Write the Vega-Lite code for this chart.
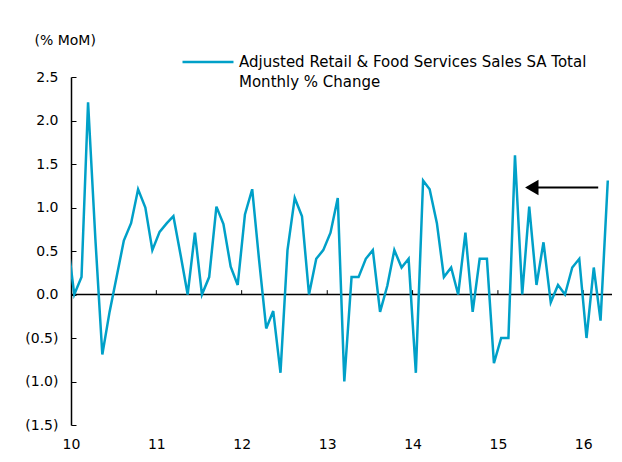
{
  "$schema": "https://vega.github.io/schema/vega-lite/v6.json",
  "width": 541,
  "height": 348,
  "autosize": {"type": "none"},
  "padding": {"left": 71, "top": 77, "right": 10, "bottom": 37},
  "background": "white",
  "config": {
    "view": {"stroke": null},
    "font": "DejaVu Sans",
    "style": {"guide-label": {"lineHeight": 20}}
  },
  "datasets": {
    "sales": [
      {"month": "2009-12-15", "value": 0.66},
      {"month": "2010-01-15", "value": 0.0},
      {"month": "2010-02-15", "value": 0.2},
      {"month": "2010-03-15", "value": 2.21},
      {"month": "2010-04-15", "value": 0.65},
      {"month": "2010-05-15", "value": -0.69},
      {"month": "2010-06-15", "value": -0.2},
      {"month": "2010-07-15", "value": 0.2},
      {"month": "2010-08-15", "value": 0.62},
      {"month": "2010-09-15", "value": 0.82},
      {"month": "2010-10-15", "value": 1.21},
      {"month": "2010-11-15", "value": 1.0},
      {"month": "2010-12-15", "value": 0.51},
      {"month": "2011-01-15", "value": 0.72},
      {"month": "2011-02-15", "value": 0.82},
      {"month": "2011-03-15", "value": 0.9},
      {"month": "2011-04-15", "value": 0.45},
      {"month": "2011-05-15", "value": 0.0},
      {"month": "2011-06-15", "value": 0.71},
      {"month": "2011-07-15", "value": 0.0},
      {"month": "2011-08-15", "value": 0.2},
      {"month": "2011-09-15", "value": 1.01},
      {"month": "2011-10-15", "value": 0.81},
      {"month": "2011-11-15", "value": 0.32},
      {"month": "2011-12-15", "value": 0.11},
      {"month": "2012-01-15", "value": 0.92},
      {"month": "2012-02-15", "value": 1.21},
      {"month": "2012-03-15", "value": 0.41},
      {"month": "2012-04-15", "value": -0.39},
      {"month": "2012-05-15", "value": -0.19},
      {"month": "2012-06-15", "value": -0.9},
      {"month": "2012-07-15", "value": 0.51},
      {"month": "2012-08-15", "value": 1.11},
      {"month": "2012-09-15", "value": 0.9},
      {"month": "2012-10-15", "value": 0.0},
      {"month": "2012-11-15", "value": 0.41},
      {"month": "2012-12-15", "value": 0.51},
      {"month": "2013-01-15", "value": 0.71},
      {"month": "2013-02-15", "value": 1.11},
      {"month": "2013-03-15", "value": -1.0},
      {"month": "2013-04-15", "value": 0.2},
      {"month": "2013-05-15", "value": 0.2},
      {"month": "2013-06-15", "value": 0.41},
      {"month": "2013-07-15", "value": 0.51},
      {"month": "2013-08-15", "value": -0.2},
      {"month": "2013-09-15", "value": 0.1},
      {"month": "2013-10-15", "value": 0.51},
      {"month": "2013-11-15", "value": 0.31},
      {"month": "2013-12-15", "value": 0.41},
      {"month": "2014-01-15", "value": -0.9},
      {"month": "2014-02-15", "value": 1.31},
      {"month": "2014-03-15", "value": 1.21},
      {"month": "2014-04-15", "value": 0.82},
      {"month": "2014-05-15", "value": 0.2},
      {"month": "2014-06-15", "value": 0.31},
      {"month": "2014-07-15", "value": 0.0},
      {"month": "2014-08-15", "value": 0.71},
      {"month": "2014-09-15", "value": -0.2},
      {"month": "2014-10-15", "value": 0.41},
      {"month": "2014-11-15", "value": 0.41},
      {"month": "2014-12-15", "value": -0.79},
      {"month": "2015-01-15", "value": -0.5},
      {"month": "2015-02-15", "value": -0.5},
      {"month": "2015-03-15", "value": 1.6},
      {"month": "2015-04-15", "value": 0.0},
      {"month": "2015-05-15", "value": 1.01},
      {"month": "2015-06-15", "value": 0.11},
      {"month": "2015-07-15", "value": 0.6},
      {"month": "2015-08-15", "value": -0.09},
      {"month": "2015-09-15", "value": 0.11},
      {"month": "2015-10-15", "value": 0.0},
      {"month": "2015-11-15", "value": 0.31},
      {"month": "2015-12-15", "value": 0.41},
      {"month": "2016-01-15", "value": -0.5},
      {"month": "2016-02-15", "value": 0.31},
      {"month": "2016-03-15", "value": -0.3},
      {"month": "2016-04-15", "value": 1.31}
    ],
    "zero": [{"ref": 0}],
    "yearTicks": [
      {"year": "2011-01-01"},
      {"year": "2012-01-01"},
      {"year": "2013-01-01"},
      {"year": "2014-01-01"},
      {"year": "2015-01-01"},
      {"year": "2016-01-01"}
    ],
    "arrow": [{"from": "2015-05-26", "to": "2016-03-05", "level": 1.23}]
  },
  "layer": [
    {
      "data": {"name": "zero"},
      "mark": {"type": "rule", "color": "#000000", "strokeWidth": 1.5},
      "encoding": {
        "y": {"field": "ref", "type": "quantitative"}
      }
    },
    {
      "data": {"name": "yearTicks"},
      "mark": {"type": "rule", "color": "#000000", "strokeWidth": 1},
      "encoding": {
        "x": {"field": "year", "type": "temporal"},
        "y": {"datum": 0},
        "y2": {"datum": 0.05}
      }
    },
    {
      "data": {"name": "sales"},
      "mark": {"type": "line", "strokeWidth": 2.5, "clip": true},
      "encoding": {
        "x": {
          "field": "month",
          "type": "temporal",
          "scale": {
            "type": "utc",
            "domain": [
              {"year": 2010, "month": 1, "date": 1, "utc": true},
              {"year": 2016, "month": 5, "date": 3, "utc": true}
            ]
          },
          "axis": {
            "title": null,
            "values": [
              {"year": 2010, "month": 1, "date": 1, "utc": true},
              {"year": 2011, "month": 1, "date": 1, "utc": true},
              {"year": 2012, "month": 1, "date": 1, "utc": true},
              {"year": 2013, "month": 1, "date": 1, "utc": true},
              {"year": 2014, "month": 1, "date": 1, "utc": true},
              {"year": 2015, "month": 1, "date": 1, "utc": true},
              {"year": 2016, "month": 1, "date": 1, "utc": true}
            ],
            "format": "%y",
            "domain": false,
            "ticks": false,
            "grid": false,
            "labelPadding": 12,
            "labelFontSize": 14,
            "labelColor": "#000000",
            "labelDx": 3,
            "labelFlush": false,
            "labelOverlap": false
          }
        },
        "y": {
          "field": "value",
          "type": "quantitative",
          "scale": {"domain": [-1.5, 2.5], "nice": false, "zero": false},
          "axis": {
            "title": "(% MoM)",
            "titleAngle": 0,
            "titleAlign": "left",
            "titleBaseline": "middle",
            "titleX": -37,
            "titleY": -37,
            "titleFontSize": 14,
            "titleFontWeight": "normal",
            "titleColor": "#000000",
            "values": [-1.5, -1, -0.5, 0, 0.5, 1, 1.5, 2, 2.5],
            "labelExpr": "datum.value < 0 ? '(' + format(-datum.value, '.1f') + ')' : format(datum.value, '.1f')",
            "labelFontSize": 14,
            "labelColor": "#000000",
            "labelPadding": 18,
            "tickSize": -5,
            "tickColor": "#000000",
            "domainColor": "#000000",
            "domainWidth": 1.5,
            "grid": false
          }
        },
        "stroke": {
          "datum": "Adjusted Retail & Food Services Sales SA Total Monthly % Change",
          "type": "nominal",
          "scale": {"range": ["#00A0C8"]},
          "legend": {
            "orient": "none",
            "legendX": 110,
            "legendY": -42,
            "title": null,
            "symbolType": "stroke",
            "symbolSize": 2600,
            "symbolStrokeWidth": 2.5,
            "labelFontSize": 15,
            "labelColor": "#000000",
            "labelLimit": 500,
            "labelOffset": 4,
            "labelBaseline": "middle",
            "labelExpr": "['Adjusted Retail & Food Services Sales SA Total', 'Monthly % Change']"
          }
        }
      }
    },
    {
      "data": {"name": "arrow"},
      "mark": {"type": "rule", "color": "#000000", "strokeWidth": 2},
      "encoding": {
        "x": {"field": "from", "type": "temporal"},
        "x2": {"field": "to"},
        "y": {"field": "level", "type": "quantitative"}
      }
    },
    {
      "data": {"name": "arrow"},
      "mark": {"type": "point", "shape": "triangle-left", "size": 240, "filled": true, "color": "#000000", "opacity": 1},
      "encoding": {
        "x": {"field": "from", "type": "temporal"},
        "y": {"field": "level", "type": "quantitative"}
      }
    }
  ]
}
